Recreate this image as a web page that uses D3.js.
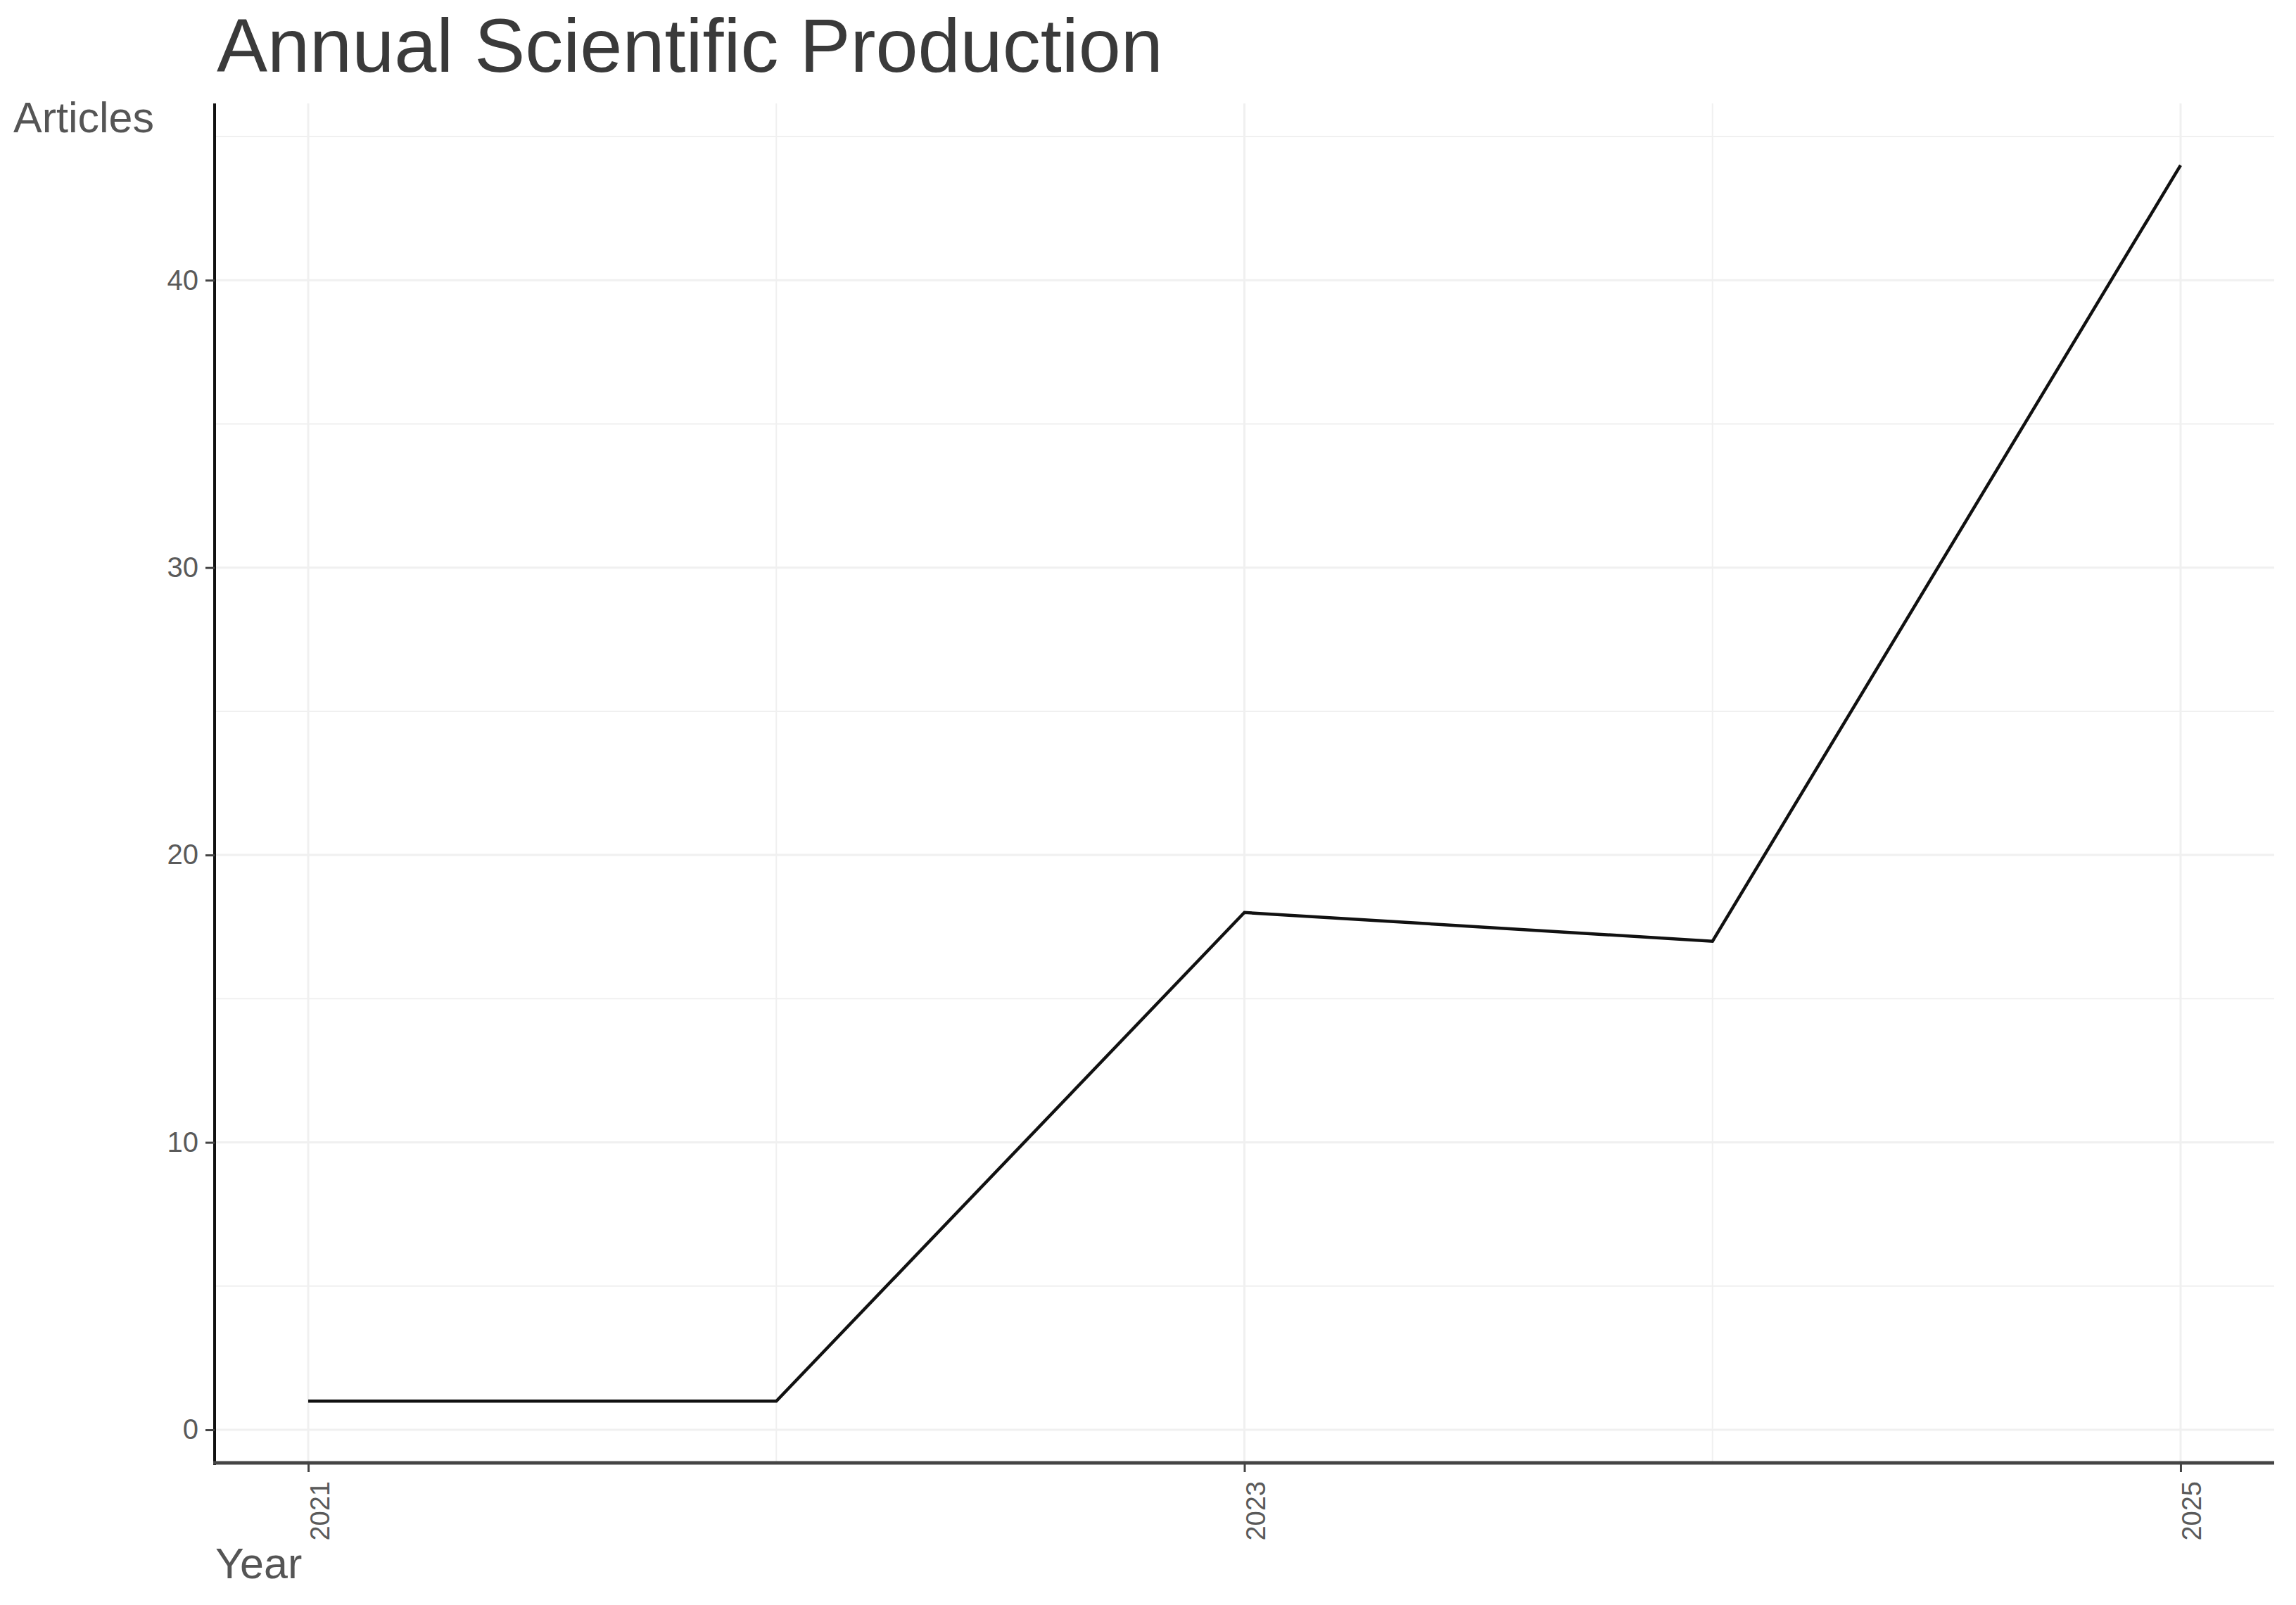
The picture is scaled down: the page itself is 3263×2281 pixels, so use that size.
<!DOCTYPE html>
<html><head><meta charset="utf-8">
<script src="https://cdn.jsdelivr.net/npm/d3@7"></script>
<style>body{margin:0;background:#fff}svg{display:block}text{font-family:"Liberation Sans",Arial,sans-serif}</style>
</head><body>
<script>
const years = [2021, 2022, 2023, 2024, 2025];
const articles = [1, 1, 18, 17, 44];
const xTicks = [2021, 2023, 2025];
const xMinor = [2022, 2024];
const yTicks = [0, 10, 20, 30, 40];
const yMinor = [5, 15, 25, 35, 45];
const titleText = "Annual Scientific Production";
const xLabel = "Year", yLabel = "Articles";

const W = 3263, H = 2281;
const pLeft = 305, pRight = 3232, pTop = 147, pBottom = 2079;

const svg = d3.select("body").append("svg").attr("width", W).attr("height", H);

const xExt = d3.extent(years), xPad = (xExt[1]-xExt[0])*0.05;
const x = d3.scaleLinear().domain([xExt[0]-xPad, xExt[1]+xPad]).range([pLeft, pRight]);
const yExt = d3.extent(articles), yPad = (yExt[1]-yExt[0])*0.05;
const y = d3.scaleLinear().domain([yExt[0]-yPad, yExt[1]+yPad]).range([pBottom, pTop]);

const grid = svg.append("g");
grid.selectAll(".hg").data(yTicks.concat(yMinor)).join("line")
  .attr("x1", pLeft).attr("x2", pRight).attr("y1", d=>y(d)).attr("y2", d=>y(d))
  .attr("stroke", "#f0f0f0").attr("stroke-width", d=>yTicks.includes(d)?3:2);
grid.selectAll(".vg").data(xTicks.concat(xMinor)).join("line")
  .attr("y1", pTop).attr("y2", pBottom).attr("x1", d=>x(d)).attr("x2", d=>x(d))
  .attr("stroke", "#f0f0f0").attr("stroke-width", d=>xTicks.includes(d)?3:2);

const line = d3.line().x((d,i)=>x(years[i])).y(d=>y(d));
svg.append("path").datum(articles).attr("d", line)
  .attr("fill", "none").attr("stroke", "#111").attr("stroke-width", 4.5);

// y axis
const yAxis = svg.append("g").attr("transform", `translate(${pLeft},0)`)
  .call(d3.axisLeft(y).tickValues(yTicks).tickSize(13).tickPadding(10));
yAxis.select(".domain").attr("d", `M0,${pTop}V${pBottom+3}`).attr("stroke", "#111").attr("stroke-width", 4);
yAxis.selectAll(".tick line").attr("stroke", "#444").attr("stroke-width", 3);
yAxis.selectAll(".tick text").attr("font-size", 40).attr("fill", "#5a5a5a")
  .attr("font-family", "Liberation Sans, Arial, sans-serif");

// x axis
const xAxis = svg.append("g").attr("transform", `translate(0,${pBottom})`)
  .call(d3.axisBottom(x).tickValues(xTicks).tickFormat(d3.format("d")).tickSize(13));
xAxis.select(".domain").attr("d", `M${pLeft-2},0H${pRight}`).attr("stroke", "#444").attr("stroke-width", 5);
xAxis.selectAll(".tick line").attr("stroke", "#444").attr("stroke-width", 3);
xAxis.selectAll(".tick text")
  .attr("font-size", 38).attr("fill", "#5a5a5a").attr("font-family", "Liberation Sans, Arial, sans-serif")
  .attr("text-anchor", "end").attr("dy", null).attr("y", 0).attr("x", 0)
  .attr("transform", "translate(29,26) rotate(-90)");

svg.append("text").attr("x", 308).attr("y", 102).attr("font-size", 108)
  .attr("fill", "#3a3a3a").text(titleText);
svg.append("text").attr("x", 19).attr("y", 188).attr("font-size", 61)
  .attr("fill", "#555").text(yLabel);
svg.append("text").attr("x", 306).attr("y", 2243).attr("font-size", 61)
  .attr("fill", "#555").text(xLabel);
</script>
</body></html>
